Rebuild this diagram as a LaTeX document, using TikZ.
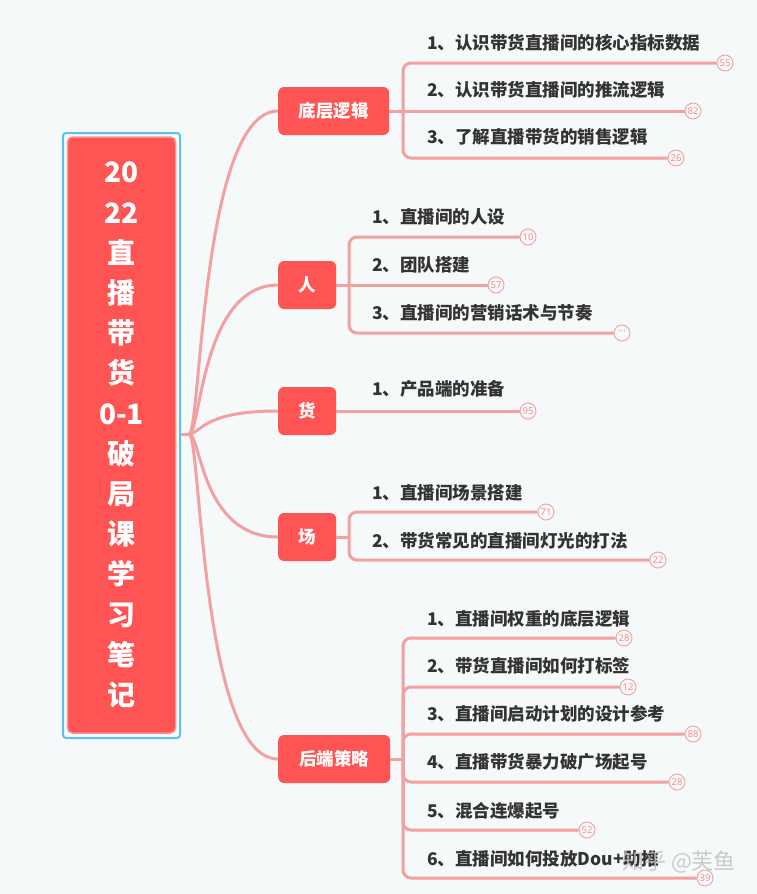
\documentclass[tikz,border=0pt]{standalone}
\usepackage{fontspec}
\newfontfamily\cjk{Noto Sans CJK SC}
\newfontfamily\badgefont{Noto Sans}
\definecolor{bg}{HTML}{F5F9FA}
\definecolor{rd}{HTML}{FF5454}
\definecolor{rdlight}{HTML}{FF9090}
\definecolor{frame}{HTML}{5BC2EC}
\definecolor{lnc}{HTML}{F3A0A0}
\definecolor{txt}{HTML}{333333}
\tikzset{
  branch/.style={fill=rd, rounded corners=6pt, text=white, anchor=west, inner sep=0pt,
    minimum height=48pt, font=\cjk\bfseries\fontsize{17.5}{20}\selectfont},
  leaf/.style={anchor=west, text=txt, inner sep=0pt, font=\cjk\bfseries\fontsize{17.5}{20}\selectfont},
  badge/.style={circle, draw=lnc, line width=0.9pt, fill=bg, minimum size=16pt, inner sep=0pt,
    text=lnc!90!red, font=\badgefont\fontsize{9.5}{10}\selectfont},
  link/.style={draw=lnc, line width=3pt},
}
\begin{document}
\begin{tikzpicture}[x=1pt,y=-1pt]
\fill[bg] (0,0) rectangle (757,894);
\useasboundingbox (0,0) rectangle (757,894);

% root
\node[draw=frame, line width=2pt, rounded corners=3pt, minimum width=117pt, minimum height=605pt, inner sep=0pt] (rootframe) at (121.5,435.5) {};
\node[fill=rd, draw=rdlight, line width=1.5pt, rounded corners=5pt, minimum width=108pt, minimum height=596pt,
  inner sep=0pt, text=white, align=center, font=\cjk\bfseries\fontsize{28}{40.2}\selectfont] (root) at (121.5,435)
  {20\\22\\直\\播\\带\\货\\0-1\\破\\局\\课\\学\\习\\笔\\记};
\coordinate (rp) at (189,434);
\draw[link] (rootframe.east |- rp) -- (rp);

% branches
\node[branch, minimum width=111pt] (b1) at (278,111) {底层逻辑};
\node[branch, minimum width=58pt] (b2) at (278,285) {人};
\node[branch, minimum width=58pt] (b3) at (278,411) {货};
\node[branch, minimum width=58pt] (b4) at (278,537) {场};
\node[branch, minimum width=112pt] (b5) at (278,759) {后端策略};

\foreach \b in {b1,b2,b3,b4,b5}{
  \draw[link] (rp) .. controls (rp -| 201,0) and (\b.west -| 201,0) .. (\b.west);
}

% leaves of b1
\node[leaf] (c11) at (427,43) {1、认识带货直播间的核心指标数据};
\node[leaf] (c12) at (427,90) {2、认识带货直播间的推流逻辑};
\node[leaf] (c13) at (427,137) {3、了解直播带货的销售逻辑};
\node[badge] (d11) at (725,63) {55};
\node[badge] (d12) at (693,111) {82};
\node[badge] (d13) at (676,158) {26};
\coordinate (j1) at (403,111);
\draw[link] (b1.east) -- (j1);
\draw[link] (j1) -- (d12.west);
\draw[link, rounded corners=8pt] (j1) |- (d11.west);
\draw[link, rounded corners=8pt] (j1) |- (d13.west);

% leaves of b2
\node[leaf] (c21) at (372,217) {1、直播间的人设};
\node[leaf] (c22) at (372,265) {2、团队搭建};
\node[leaf] (c23) at (372,313) {3、直播间的营销话术与节奏};
\node[badge] (d21) at (528,237) {10};
\node[badge] (d22) at (496,285) {57};
\node[badge] (d23) at (622,333) {···};
\coordinate (j2) at (349,285);
\draw[link] (b2.east) -- (j2);
\draw[link] (j2) -- (d22.west);
\draw[link, rounded corners=8pt] (j2) |- (d21.west);
\draw[link, rounded corners=8pt] (j2) |- (d23.west);

% leaves of b3
\node[leaf] (c31) at (372,389) {1、产品端的准备};
\node[badge] (d31) at (528,411) {95};
\draw[link] (b3.east) -- (d31.west);

% leaves of b4
\node[leaf] (c41) at (372,493) {1、直播间场景搭建};
\node[leaf] (c42) at (372,541) {2、带货常见的直播间灯光的打法};
\node[badge] (d41) at (546,512) {71};
\node[badge] (d42) at (658,560) {22};
\coordinate (j4) at (349,537);
\draw[link] (b4.east) -- (j4);
\draw[link, rounded corners=8pt] (j4) |- (d41.west);
\draw[link, rounded corners=8pt] (j4) |- (d42.west);

% leaves of b5
\node[leaf] (c51) at (427,619) {1、直播间权重的底层逻辑};
\node[leaf] (c52) at (427,666) {2、带货直播间如何打标签};
\node[leaf] (c53) at (427,714) {3、直播间启动计划的设计参考};
\node[leaf] (c54) at (427,762) {4、直播带货暴力破广场起号};
\node[leaf] (c55) at (427,811) {5、混合连爆起号};
\node[leaf] (c56) at (427,859) {6、直播间如何投放Dou+助推};
\node[badge] (d51) at (624,638) {28};
\node[badge] (d52) at (628,687) {12};
\node[badge] (d53) at (693,734) {88};
\node[badge] (d54) at (677,782) {28};
\node[badge] (d55) at (587,830) {52};
\node[badge] (d56) at (705,878) {39};
\coordinate (j5) at (403,759);
\draw[link] (b5.east) -- (j5);
\foreach \d in {d51,d52,d53,d54,d55,d56}{
  \draw[link, rounded corners=8pt] (j5) |- (\d.west);
}

% watermark
\node[text=black!25, opacity=0.8, inner sep=0pt, font=\cjk\fontsize{22}{24}\selectfont] (wm) at (679,862) {知乎 @芙鱼};
\end{tikzpicture}
\end{document}
